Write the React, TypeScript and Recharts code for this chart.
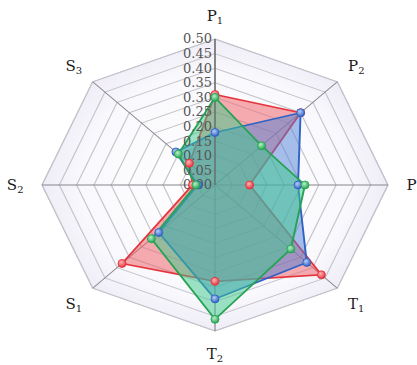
import React from "react";
import {
    RadarChart,
    Radar,
    PolarGrid,
    PolarAngleAxis,
    PolarRadiusAxis,
} from "recharts";

// axis names: [letter, subscript]
const AXES = [
    ["P", "1"],
    ["P", "2"],
    ["P", "3"],
    ["T", "1"],
    ["T", "2"],
    ["S", "1"],
    ["S", "2"],
    ["S", "3"],
];
const RED = [0.31, 0.35, 0.1, 0.435, 0.33, 0.38, 0.065, 0.105];
const BLUE = [0.18, 0.35, 0.24, 0.375, 0.39, 0.23, 0.05, 0.16];
const GREEN = [0.3, 0.19, 0.26, 0.31, 0.46, 0.26, 0.055, 0.15];

const SERIES = [
    { key: "red", line: "#e5343c", fill: "#ee5a62", light: "#ffb4b8" },
    { key: "blue", line: "#2f62c4", fill: "#4f7fd6", light: "#b6cdf6" },
    { key: "green", line: "#25a352", fill: "#3cc98c", light: "#b4f0c8" },
];

// the chart is drawn round, then stretched sideways to get the oval look
const K = 173 / 146;
const W = 417 / K;
const H = 365;
const CX = 215 / K;
const CY = 185;
const R = 146;

const data = AXES.map((a, i) => ({
    axis: a[0] + a[1],
    red: RED[i],
    blue: BLUE[i],
    green: GREEN[i],
}));

// undo the horizontal stretch for text around (x, y)
const unstretch = (x: number, y: number) =>
    `translate(${x} ${y}) scale(${1 / K} 1) translate(${-x} ${-y})`;

const AngleTick = (props: any) => {
    const { payload, index } = props;
    const rad = (payload.coordinate * Math.PI) / 180;
    const lr = R * 1.155;
    const x = CX + lr * Math.cos(rad);
    const y = CY - lr * Math.sin(rad);
    const a = AXES[index] || [String(payload.value), ""];
    return (
        <text
            x={x}
            y={y}
            transform={unstretch(x, y)}
            textAnchor="middle"
            dominantBaseline="central"
            fontFamily="DejaVu Serif"
            fontSize={15}
            fill="#1a1a1a"
        >
            <tspan>{a[0]}</tspan>
            <tspan fontSize={10} dy={4}>
                {a[1]}
            </tspan>
        </text>
    );
};

const RadiusTick = (props: any) => {
    const { x, y, payload } = props;
    const tx = x - 3 / K;
    return (
        <text
            x={tx}
            y={y}
            transform={unstretch(tx, y)}
            textAnchor="end"
            dominantBaseline="central"
            fontFamily="DejaVu Serif"
            fontSize={13}
            fill="#555"
        >
            {Number(payload.value).toFixed(2)}
        </text>
    );
};

const makeDot = (key: string, stroke: string) => (props: any) => {
    const { cx, cy, index } = props;
    return (
        <ellipse
            key={`${key}-${index}`}
            cx={cx}
            cy={cy}
            rx={4 / K}
            ry={4}
            fill={`url(#dot-${key})`}
            stroke={stroke}
            strokeWidth={0.8}
        />
    );
};

export default function App() {
    return (
        <div
            style={{
                position: "absolute",
                left: 0,
                top: 0,
                width: 417,
                height: 365,
                overflow: "hidden",
                background: "#fff",
            }}
        >
            <div
                style={{
                    width: W,
                    height: H,
                    transform: `scaleX(${K})`,
                    transformOrigin: "0 0",
                }}
            >
                <RadarChart
                    width={W}
                    height={H}
                    cx={CX}
                    cy={CY}
                    outerRadius={R}
                    data={data}
                    margin={{ top: 0, right: 0, bottom: 0, left: 0 }}
                >
                    <defs>
                        <radialGradient id="bg-bands" cx="50%" cy="50%" r="50%">
                            <stop offset="0%" stopColor="#ffffff" />
                            <stop offset="78%" stopColor="#f9f8fc" />
                            <stop offset="100%" stopColor="#efecf6" />
                        </radialGradient>
                        {SERIES.map((s) => (
                            <radialGradient
                                key={s.key}
                                id={`dot-${s.key}`}
                                cx="40%"
                                cy="35%"
                                r="65%"
                            >
                                <stop offset="0%" stopColor={s.light} />
                                <stop offset="100%" stopColor={s.line} />
                            </radialGradient>
                        ))}
                    </defs>
                    <PolarGrid
                        gridType="polygon"
                        radialLines={false}
                        stroke="#c4c4cc"
                        fill="url(#bg-bands)"
                    />
                    <PolarGrid
                        gridType="polygon"
                        polarRadius={[0]}
                        stroke="#85858c"
                    />
                    <PolarAngleAxis
                        dataKey="axis"
                        tick={<AngleTick />}
                        tickLine={false}
                        axisLine={false}
                    />
                    <PolarRadiusAxis
                        angle={90}
                        type="number"
                        domain={[0, 0.5]}
                        tickCount={11}
                        allowDecimals={true}
                        tick={<RadiusTick />}
                        axisLine={{ stroke: "#666" }}
                        tickLine={false}
                    />
                    {SERIES.map((s) => (
                        <Radar
                            key={s.key}
                            dataKey={s.key}
                            stroke={s.line}
                            strokeWidth={1.6}
                            fill={s.fill}
                            fillOpacity={0.5}
                            dot={makeDot(s.key, s.line)}
                            isAnimationActive={false}
                        />
                    ))}
                </RadarChart>
            </div>
        </div>
    );
}
